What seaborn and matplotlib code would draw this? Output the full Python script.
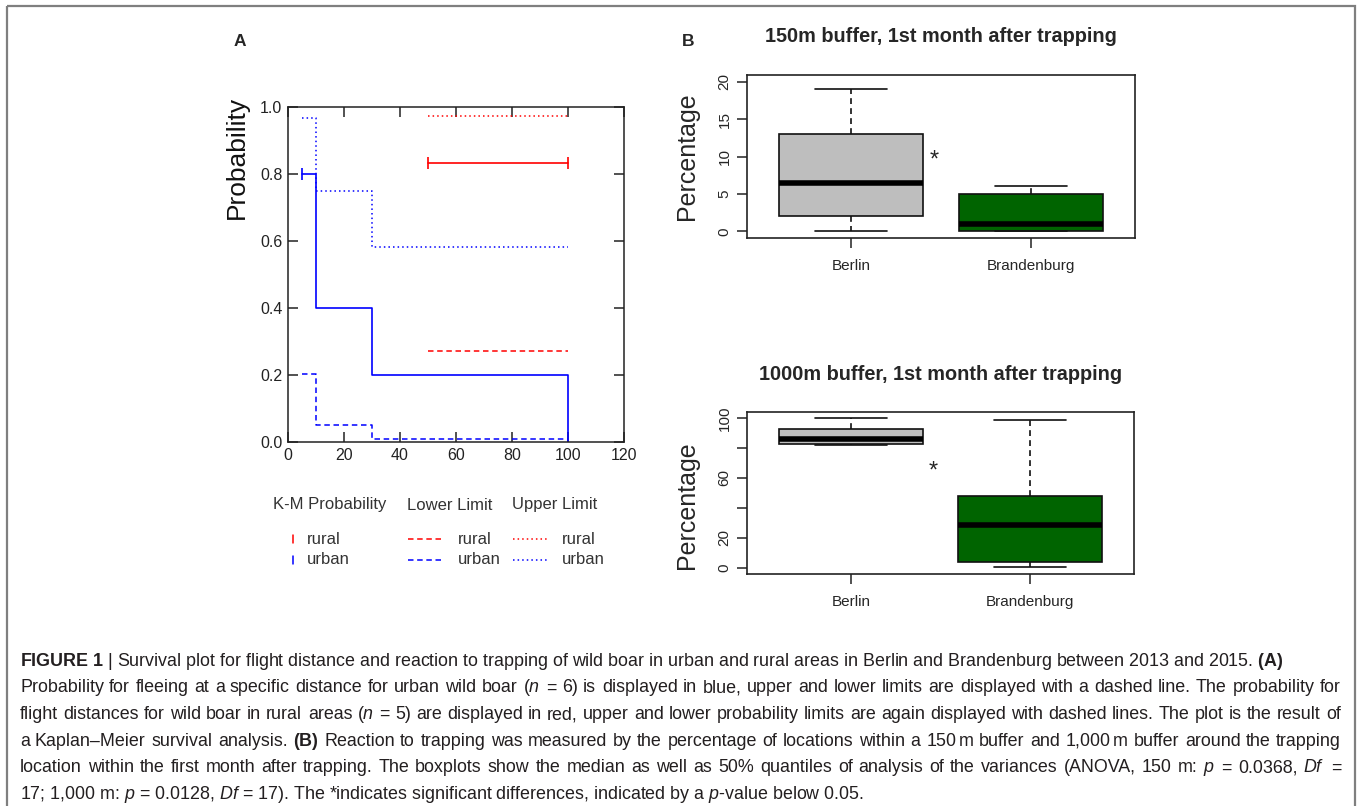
import matplotlib
matplotlib.use('Agg')
import matplotlib.pyplot as plt
from matplotlib.patches import Rectangle
from matplotlib.lines import Line2D
import seaborn as sns
import pandas as pd

# Panel A: Kaplan-Meier estimate of flight distance (m)
urban_dist = [5, 10, 30, 100]
urban_km = [0.8, 0.4, 0.2, 0.0]
urban_lower = [0.203, 0.052, 0.008, 0.008]
urban_upper = [0.967, 0.75, 0.582, 0.582]
rural_dist = [50, 100]
rural_km = [0.833, 0.833]
rural_lower = [0.273, 0.273]
rural_upper = [0.973, 0.973]

# Panel B: percentage of locations inside buffer (five-number summaries)
sites = ['Berlin', 'Brandenburg']
berlin_150 = [0, 2, 6.5, 13, 19]
brandenburg_150 = [0, 0, 1, 5, 6]
berlin_1000 = [82, 83, 86, 93, 100]
brandenburg_1000 = [1, 4, 29, 48, 99]

caption = [
    r"$\mathbf{FIGURE\ 1}$ | Survival plot for flight distance and reaction to trapping of wild boar in urban and rural areas in Berlin and Brandenburg between 2013 and 2015. $\mathbf{(A)}$",
    r"Probability for fleeing at a specific distance for urban wild boar ($\mathit{n}$ = 6) is displayed in blue, upper and lower limits are displayed with a dashed line. The probability for",
    r"flight distances for wild boar in rural areas ($\mathit{n}$ = 5) are displayed in red, upper and lower probability limits are again displayed with dashed lines. The plot is the result of",
    r"a Kaplan–Meier survival analysis. $\mathbf{(B)}$ Reaction to trapping was measured by the percentage of locations within a 150$\,$m buffer and 1,000$\,$m buffer around the trapping",
    r"location within the first month after trapping. The boxplots show the median as well as 50% quantiles of analysis of the variances (ANOVA, 150 m: $\mathit{p}$ = 0.0368, $\mathit{Df}$ =",
    r"17; 1,000 m: $\mathit{p}$ = 0.0128, $\mathit{Df}$ = 17). The *indicates significant differences, indicated by a $\mathit{p}$-value below 0.05.",
]

sns.set_style('ticks')
plt.rcParams['font.family'] = ['Liberation Sans', 'DejaVu Sans']
plt.rcParams['mathtext.fontset'] = 'custom'
plt.rcParams['mathtext.rm'] = 'Liberation Sans'
plt.rcParams['mathtext.it'] = 'Liberation Sans:italic'
plt.rcParams['mathtext.bf'] = 'Liberation Sans:bold'

W, H = 1358, 806
fig = plt.figure(figsize=(W / 100, H / 100), dpi=100)


def px_axes(left, top, right, bottom):
    return fig.add_axes([left / W, 1 - bottom / H, (right - left) / W, (bottom - top) / H])


# overlay in pixel coordinates for labels, legend and caption
over = fig.add_axes([0, 0, 1, 1], zorder=-1)
over.set_xlim(0, W)
over.set_ylim(H, 0)
over.axis('off')
over.add_patch(Rectangle((7, 6), 1348, 900, fill=False, edgecolor='#7f7f7f', linewidth=1.6))

# ---------------- Panel A ----------------
axA = px_axes(288, 107, 624, 442)
dash = (0, (3.6, 2.4))
dot = (0, (1, 2))
blue, red = '#0000ff', '#ff0000'
sns.lineplot(x=urban_dist, y=urban_km, drawstyle='steps-post', color=blue, lw=1.2,
             marker='|', markevery=[0], markersize=8, mew=1.2, mec=blue, ax=axA)
sns.lineplot(x=urban_dist, y=urban_lower, drawstyle='steps-post', color=blue, lw=1.1,
             linestyle=dash, ax=axA)
sns.lineplot(x=urban_dist, y=urban_upper, drawstyle='steps-post', color=blue, lw=1.1,
             linestyle=dot, ax=axA)
sns.lineplot(x=rural_dist, y=rural_km, drawstyle='steps-post', color=red, lw=1.2,
             marker='|', markersize=8, mew=1.2, mec=red, ax=axA)
sns.lineplot(x=rural_dist, y=rural_lower, drawstyle='steps-post', color=red, lw=1.1,
             linestyle=dash, ax=axA)
sns.lineplot(x=rural_dist, y=rural_upper, drawstyle='steps-post', color=red, lw=1.1,
             linestyle=dot, ax=axA)
axA.set_xlim(0, 120)
axA.set_ylim(0, 1)
axA.set_xticks(range(0, 121, 20))
axA.set_yticks([0, 0.2, 0.4, 0.6, 0.8, 1.0])
axA.set_yticklabels(['0.0', '0.2', '0.4', '0.6', '0.8', '1.0'])
axA.tick_params(direction='in', length=7, width=1.1, top=True, right=True,
                labelsize=11.5, labelcolor='#222222', pad=4, color='#222222')
for sp in axA.spines.values():
    sp.set_visible(True)
    sp.set_linewidth(1.1)
    sp.set_color('#222222')
axA.set_xlabel('')
axA.set_ylabel('')

over.text(240, 41, 'A', fontsize=12.5, fontweight='bold', ha='center', va='center')
over.text(237, 157, 'Probability', fontsize=19, rotation=90, ha='center', va='center', color='#111111')

# legend of panel A
leg_col = '#333333'
over.text(273, 505, 'K-M Probability', fontsize=12, ha='left', va='center', color=leg_col)
over.text(407, 505, 'Lower Limit', fontsize=12, ha='left', va='center', color=leg_col)
over.text(512, 505, 'Upper Limit', fontsize=12, ha='left', va='center', color=leg_col)
for y, colr, lab in [(539, red, 'rural'), (560, blue, 'urban')]:
    over.add_line(Line2D([293, 293], [y - 4, y + 4], color=colr, lw=1.1))
    over.add_line(Line2D([408, 444], [y, y], color=colr, lw=1.1, linestyle=dash))
    over.add_line(Line2D([513, 548], [y, y], color=colr, lw=1.1, linestyle=dot))
    over.text(307, y, lab, fontsize=12, ha='left', va='center', color=leg_col)
    over.text(458, y, lab, fontsize=12, ha='left', va='center', color=leg_col)
    over.text(562, y, lab, fontsize=12, ha='left', va='center', color=leg_col)

# ---------------- Panel B ----------------
box_colors = {'Berlin': '#bebebe', 'Brandenburg': '#006400'}


def draw_box(ax, berlin, brandenburg, ylim, yticks, ylabels, star_y):
    df = pd.DataFrame({'site': [sites[0]] * len(berlin) + [sites[1]] * len(brandenburg),
                       'pct': berlin + brandenburg})
    sns.boxplot(data=df, x='site', y='pct', hue='site', palette=box_colors, saturation=1,
                width=0.8, linecolor='#111111', linewidth=1.2, showfliers=False,
                whiskerprops={'linestyle': (0, (3.5, 2.5))},
                medianprops={'linewidth': 4, 'color': 'black'},
                legend=False, ax=ax)
    ax.set_xlim(-0.58, 1.58)
    ax.set_ylim(*ylim)
    ax.set_yticks(yticks)
    ax.set_yticklabels(ylabels)
    ax.set_xlabel('')
    ax.set_ylabel('')
    ax.tick_params(direction='out', length=7, width=1.1, labelsize=11, color='#222222')
    ax.tick_params(axis='x', pad=8)
    ax.tick_params(axis='y', labelrotation=90, pad=4)
    for lbl in ax.get_yticklabels():
        lbl.set_va('center')
    for sp in ax.spines.values():
        sp.set_visible(True)
        sp.set_linewidth(1.2)
        sp.set_color('#222222')
    ax.text(0.46, star_y, '*', fontsize=17, ha='center', va='center')


axB1 = px_axes(747, 75, 1135, 238)
draw_box(axB1, berlin_150, brandenburg_150, (-0.9, 20.9), [0, 5, 10, 15, 20],
         ['0', '5', '10', '15', '20'], 9.5)
axB2 = px_axes(747, 412, 1134, 574)
draw_box(axB2, berlin_1000, brandenburg_1000, (-4, 104), [0, 20, 40, 60, 80, 100],
         ['0', '20', '', '60', '', '100'], 64)

over.text(688, 41, 'B', fontsize=12.5, fontweight='bold', ha='center', va='center')
over.text(941, 37, '150m buffer, 1st month after trapping', fontsize=14.3, fontweight='bold',
          ha='center', va='center')
over.text(941, 375, '1000m buffer, 1st month after trapping', fontsize=14.3, fontweight='bold',
          ha='center', va='center')
over.text(687, 156, 'Percentage', fontsize=18, rotation=90, ha='center', va='center')
over.text(687, 505, 'Percentage', fontsize=18, rotation=90, ha='center', va='center')

# ---------------- Caption ----------------
cap_kw = dict(fontsize=12.9, ha='left', va='baseline', color='#231f20')
renderer = fig.canvas.get_renderer()
baselines = [666, 692.5, 719, 746, 772.5, 799]
for i, (line, y) in enumerate(zip(caption, baselines)):
    if i in (0, len(caption) - 1):
        over.text(20, y, line, **cap_kw)
        continue
    # justify to the right margin, one text per word
    words = line.split(' ')
    widths = []
    for w in words:
        probe = over.text(0, y, w, **cap_kw)
        widths.append(probe.get_window_extent(renderer).width)
        probe.remove()
    gap = (1341 - 20 - sum(widths)) / (len(words) - 1)
    x = 20.0
    for w, wd in zip(words, widths):
        over.text(round(x), y, w, **cap_kw)
        x += wd + gap

fig.savefig('out.png', dpi=100)
